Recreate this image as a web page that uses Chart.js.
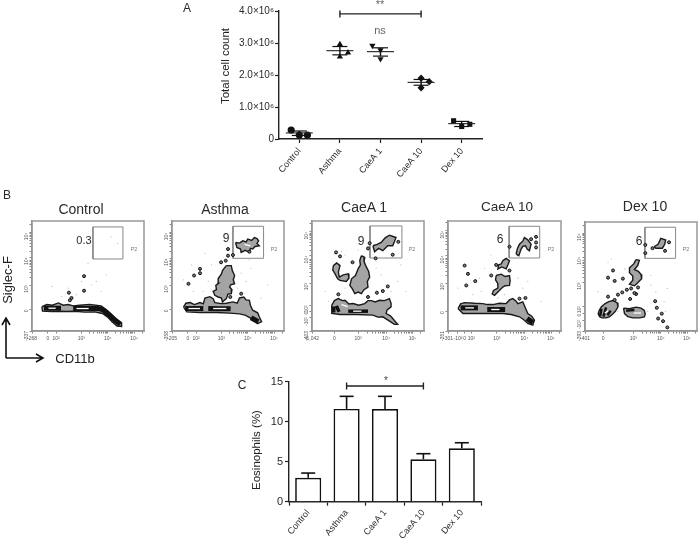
<!DOCTYPE html>
<html>
<head>
<meta charset="utf-8">
<script src="https://cdn.jsdelivr.net/npm/chart.js@4/dist/chart.umd.min.js"></script>
<style>
html, body { margin: 0; padding: 0; background: #fff; }
#page { position: relative; width: 700px; height: 546px; overflow: hidden; filter: blur(0.35px); }
canvas { position: absolute; }
.t { position: absolute; transform: translate(-50%, -50%); white-space: nowrap; color: #2a2a2a; font-family: "Liberation Sans", Arial, sans-serif; }
svg { position: absolute; left: 0; top: 0; }
</style>
</head>
<body>
<div id="page">
<svg width="700" height="546">
  <path d="M6 358V319M2 325L6 318L10 325M6 358H42M36 354L43 358L36 362" fill="none" stroke="#111" stroke-width="1.6"/>
</svg>
</div>
<script>
let categories = ['Control', 'Asthma', 'CaeA 1', 'CaeA 10', 'Dex 10']

/* Panel A, total cell count in millions */
let controlCounts = [0.28, 0.125, 0.125]
let asthmaCounts = [2.96, 2.70, 2.57]
let caea1Counts = [2.92, 2.78, 2.50]
let caea10Counts = [1.90, 1.79, 1.60]
let dexCounts = [0.57, 0.39, 0.46]
let countMeans = [0.19, 2.76, 2.73, 1.77, 0.48]
let countUpper = [0.25, 2.89, 2.85, 1.86, 0.55]
let countLower = [0.11, 2.63, 2.59, 1.68, 0.39]
let countTicks = ['0', '1.0×10⁶', '2.0×10⁶', '3.0×10⁶', '4.0×10⁶']

/* Panel C, eosinophils percent */
let eosinophils = [3.0, 11.6, 11.58, 5.3, 6.67]
let eosinophilsUpper = [3.58, 13.17, 13.17, 6.0, 7.37]

/* Panel B, values are instrument channels */
let controlGate = [[185, 218], [276, 218], [276, 315], [185, 315]]
let controlBlobs = [
    [[30, 74], [45, 80], [62, 78], [80, 85], [95, 78], [110, 80], [125, 76], [145, 78], [175, 80], [210, 76], [228, 63], [240, 52], [255, 38], [272, 25], [272, 14], [258, 15], [243, 28], [232, 40], [214, 53], [190, 58], [160, 57], [130, 60], [105, 59], [85, 60], [60, 59], [32, 60]]
]
let controlCores = [
    [[36, 69], [88, 69]],
    [[125, 68], [200, 68], [218, 62], [240, 42], [268, 20]]
]
let controlHighlights = [
    [[50, 69], [72, 69]],
    [[135, 68], [172, 68]]
]
let controlSpots = [[120, 100], [115, 93], [112, 116], [158, 166], [158, 122]]
let controlDots = [[225, 170], [170, 205], [60, 135], [150, 150], [180, 140], [110, 130], [135, 110], [260, 265], [240, 285], [210, 120], [195, 150], [90, 105]]

let asthmaGate = [[185, 220], [278, 220], [278, 317], [185, 317]]
let asthmaBlobs = [
    [[193, 268], [205, 266], [215, 273], [225, 270], [230, 278], [242, 274], [250, 283], [258, 280], [263, 273], [258, 265], [265, 258], [252, 256], [245, 248], [238, 250], [235, 238], [222, 244], [210, 238], [208, 248], [197, 253]],
    [[165, 198], [180, 198], [183, 183], [190, 168], [186, 155], [190, 143], [178, 140], [175, 133], [182, 125], [180, 113], [170, 112], [165, 98], [153, 88], [150, 100], [140, 103], [130, 108], [125, 120], [135, 125], [133, 138], [142, 145], [140, 158], [150, 173], [153, 182], [157, 188]],
    [[35, 72], [42, 84], [55, 86], [68, 80], [85, 86], [95, 82], [100, 100], [115, 104], [125, 98], [130, 86], [150, 83], [165, 84], [185, 88], [198, 84], [205, 100], [218, 103], [225, 94], [235, 93], [238, 78], [245, 63], [260, 55], [265, 43], [272, 28], [260, 22], [250, 34], [240, 38], [222, 48], [205, 52], [175, 54], [135, 56], [85, 56], [45, 58]]
]
let asthmaCores = [[[40, 68], [95, 68]], [[110, 68], [178, 67]], [[240, 40], [262, 28]]]
let asthmaHighlights = [[[50, 68], [85, 68]], [[125, 68], [165, 68]], [[220, 262], [238, 258]]]
let asthmaSpots = [[50, 143], [67, 168], [85, 188], [85, 175], [170, 228], [149, 208], [163, 213], [185, 230], [210, 113], [170, 248], [177, 103], [235, 240]]
let asthmaDots = [[35, 155], [95, 120], [120, 200], [210, 175], [240, 190], [290, 140], [200, 130], [235, 215], [110, 150], [65, 120], [225, 150], [270, 100], [60, 200], [100, 235]]

let caea1Gate = [[176, 221], [273, 221], [273, 318], [176, 318]]
let caea1Blobs = [
    [[185, 258], [198, 262], [210, 268], [222, 282], [235, 290], [246, 286], [255, 283], [250, 270], [245, 258], [230, 258], [215, 243], [202, 250], [190, 240]],
    [[150, 228], [160, 223], [158, 210], [163, 198], [172, 180], [175, 163], [168, 150], [170, 133], [158, 125], [150, 113], [140, 118], [130, 113], [122, 128], [115, 138], [120, 158], [132, 168], [140, 188], [147, 200], [145, 213]],
    [[65, 198], [75, 206], [85, 198], [80, 178], [83, 163], [95, 170], [110, 173], [112, 160], [104, 150], [85, 153], [78, 158], [70, 173], [63, 185]],
    [[60, 78], [68, 92], [80, 98], [92, 92], [100, 93], [112, 82], [125, 83], [142, 78], [160, 83], [170, 92], [180, 92], [192, 88], [205, 93], [220, 92], [235, 98], [240, 84], [240, 73], [228, 64], [225, 53], [238, 46], [245, 38], [260, 20], [250, 20], [232, 32], [215, 43], [200, 42], [185, 48], [135, 50], [85, 50], [60, 53]]
]
let caea1Cores = [[[66, 74], [66, 56]], [[74, 76], [82, 58]], [[110, 60], [170, 60]]]
let caea1Highlights = [[[125, 60], [150, 60]], [[90, 80], [108, 74]]]
let caea1Spots = [[73, 238], [85, 226], [123, 208], [215, 121], [230, 135], [197, 116], [170, 103], [175, 266], [170, 250], [245, 231], [193, 220], [80, 111], [262, 270]]
let caea1Dots = [[40, 120], [100, 130], [260, 150], [210, 170], [195, 190], [50, 90], [140, 245], [240, 120], [285, 120], [270, 200], [90, 240], [100, 230]]

let caea10Gate = [[184, 221], [276, 221], [276, 317], [184, 317]]
let caea10Blobs = [
    [[205, 233], [209, 250], [215, 263], [225, 272], [230, 283], [240, 276], [250, 263], [245, 243], [238, 248], [233, 258], [225, 256], [220, 248], [213, 228]],
    [[165, 213], [175, 220], [185, 213], [180, 200], [175, 188], [162, 194], [150, 188], [152, 200], [160, 203]],
    [[145, 168], [160, 172], [172, 165], [185, 168], [187, 152], [185, 138], [172, 137], [165, 133], [156, 124], [150, 118], [140, 108], [133, 112], [137, 123], [150, 130], [150, 143], [143, 155]],
    [[30, 68], [38, 82], [50, 86], [80, 84], [105, 83], [118, 80], [135, 80], [155, 84], [175, 83], [185, 94], [195, 98], [205, 90], [210, 83], [225, 88], [232, 72], [240, 53], [252, 45], [260, 33], [255, 18], [240, 23], [228, 34], [215, 43], [190, 50], [165, 53], [105, 53], [45, 53]]
]
let caea10Cores = [[[38, 70], [90, 70]], [[118, 65], [172, 65]], [[238, 38], [255, 25]]]
let caea10Highlights = [[[52, 70], [78, 70]], [[130, 65], [155, 65]]]
let caea10Spots = [[50, 198], [60, 173], [55, 138], [82, 151], [185, 255], [265, 285], [265, 268], [265, 253], [250, 278], [145, 200], [130, 168], [185, 183], [233, 100], [215, 98]]
let caea10Dots = [[30, 130], [100, 120], [130, 230], [210, 160], [240, 150], [110, 190], [75, 110], [225, 130], [170, 110], [280, 90], [150, 100], [95, 160]]

let dexGate = [[182, 222], [275, 222], [275, 317], [182, 317]]
let dexBlobs = [
    [[210, 258], [222, 265], [230, 283], [245, 278], [242, 265], [235, 253], [215, 253]],
    [[155, 218], [165, 216], [160, 200], [150, 188], [162, 182], [170, 173], [172, 160], [165, 153], [158, 145], [150, 138], [135, 143], [145, 155], [145, 168], [135, 178], [135, 193], [148, 205]],
    [[43, 63], [50, 74], [60, 83], [72, 90], [85, 93], [98, 86], [100, 73], [92, 60], [85, 53], [75, 44], [65, 40], [52, 40], [45, 43], [40, 52]],
    [[117, 70], [135, 68], [155, 73], [170, 70], [180, 63], [183, 52], [180, 43], [165, 40], [145, 40], [130, 44], [120, 53]]
]
let dexCores = [[[46, 46], [50, 68]], [[56, 44], [64, 72]], [[68, 48], [78, 62]], [[125, 62], [150, 64]]]
let dexHighlights = [[[60, 55], [70, 62]], [[148, 55], [170, 55]]]
let dexSpots = [[70, 163], [90, 153], [85, 185], [115, 160], [70, 105], [100, 111], [113, 118], [127, 126], [140, 130], [155, 113], [161, 133], [90, 95], [137, 98], [213, 91], [218, 71], [233, 53], [222, 38], [237, 30], [250, 11], [183, 238], [183, 263], [205, 253], [255, 271], [243, 245], [150, 116]]
let dexDots = [[70, 210], [120, 190], [250, 130], [100, 60], [200, 140], [215, 120], [40, 120], [240, 90], [80, 220], [190, 60], [245, 60], [200, 170]]

/* Flow axis ticks, channel position then label */
let controlXTicks = [0, 48, 73, 150, 230, 310]
let controlXLabels = ['-268', '0', '10²', '10³', '10⁴', '10⁵']
let controlYTicks = [0, 65, 138, 223, 298]
let controlYLabels = ['-337', '0', '10³', '10⁴', '10⁵']
let asthmaXTicks = [0, 48, 73, 150, 230, 310]
let asthmaXLabels = ['-205', '0', '10²', '10³', '10⁴', '10⁵']
let asthmaYTicks = [0, 65, 138, 220, 298]
let asthmaYLabels = ['-358', '0', '10³', '10⁴', '10⁵']
let caea1XTicks = [0, 68, 140, 225, 305]
let caea1XLabels = ['-1,042', '0', '10³', '10⁴', '10⁵']
let caea1YTicks = [0, 42, 58, 78, 145, 228, 300]
let caea1YLabels = ['-403', '-10²', '0', '10²', '10³', '10⁴', '10⁵']
let caea10XTicks = [0, 30, 50, 70, 147, 230, 310]
let caea10XLabels = ['-301', '-10²', '0', '10²', '10³', '10⁴', '10⁵']
let caea10YTicks = [0, 60, 145, 228, 303]
let caea10YLabels = ['-351', '0', '10³', '10⁴', '10⁵']
let dexXTicks = [0, 55, 147, 230, 310]
let dexXLabels = ['-401', '0', '10³', '10⁴', '10⁵']
let dexYTicks = [0, 33, 53, 76, 148, 226, 298]
let dexYLabels = ['-393', '-10²', '0', '10²', '10³', '10⁴', '10⁵']

let page = document.querySelector('#page')
Chart.defaults.font.family = '"Liberation Sans", Arial, sans-serif'
Chart.defaults.color = '#2a2a2a'

function addCanvas(left, top, width, height) {
    let canvas = document.createElement('canvas')
    canvas.width = width
    canvas.height = height
    canvas.style.left = left + 'px'
    canvas.style.top = top + 'px'
    canvas.style.width = width + 'px'
    canvas.style.height = height + 'px'
    page.appendChild(canvas)
    return canvas.getContext('2d')
}

function addText(text, x, y, size, color, rotate) {
    let el = document.createElement('div')
    el.className = 't'
    el.textContent = text
    el.style.left = x + 'px'
    el.style.top = y + 'px'
    el.style.fontSize = size + 'px'
    if (color) el.style.color = color
    if (rotate) el.style.transform = 'translate(-50%, -50%) rotate(' + rotate + 'deg)'
    page.appendChild(el)
}

// keep the plot area fixed, whatever size the labels ask for
function fixSize(prop, size) {
    return function(scale) {
        scale[prop] = size
        scale.paddingLeft = 0
        scale.paddingRight = 0
        scale.paddingTop = 0
        scale.paddingBottom = 0
    }
}

function line(ctx, x1, y1, x2, y2, width, color) {
    ctx.save()
    ctx.strokeStyle = color
    ctx.lineWidth = width
    ctx.beginPath()
    ctx.moveTo(x1, y1)
    ctx.lineTo(x2, y2)
    ctx.stroke()
    ctx.restore()
}

// significance bracket between two categories
function drawBracket(chart, from, to, value) {
    let ctx = chart.ctx
    let xs = chart.scales.x
    let y = chart.scales.y.getPixelForValue(value)
    let x1 = xs.getPixelForValue(from)
    let x2 = xs.getPixelForValue(to)
    line(ctx, x1, y, x2, y, 1.4, '#222')
    line(ctx, x1, y - 3.5, x1, y + 3.5, 1.4, '#222')
    line(ctx, x2, y - 3.5, x2, y + 3.5, 1.4, '#222')
}

/* Panel A */
let scatterOffsets = [
    [-0.2, 0, 0.2],
    [0, 0.2, 0],
    [-0.2, 0, 0],
    [0, 0.2, 0],
    [-0.2, 0, 0.2]
]

function countSeries(values, index, style, rotation) {
    return {
        data: values.map(function(v, i) { return { x: index + scatterOffsets[index][i], y: v } }),
        pointStyle: style,
        pointRotation: rotation || 0,
        pointRadius: 3.6,
        backgroundColor: '#111',
        borderColor: '#111',
        borderWidth: 0
    }
}

let meanLines = {
    id: 'meanLines',
    afterDatasetsDraw: function(chart) {
        let ctx = chart.ctx
        let xs = chart.scales.x
        let ys = chart.scales.y
        countMeans.forEach(function(mean, i) {
            let x = xs.getPixelForValue(i)
            let m = ys.getPixelForValue(mean)
            let hi = ys.getPixelForValue(countUpper[i])
            let lo = ys.getPixelForValue(countLower[i])
            line(ctx, x - 13.5, m, x + 13.5, m, 1.1, '#222')
            line(ctx, x, hi, x, lo, 1.4, '#111')
            line(ctx, x - 7.5, hi, x + 7.5, hi, 1.2, '#111')
            line(ctx, x - 7.5, lo, x + 7.5, lo, 1.2, '#111')
        })
        drawBracket(chart, 1, 3, 3.91)
    }
}

new Chart(addCanvas(215, 0, 275, 185), {
    type: 'scatter',
    data: {
        datasets: [
            countSeries(controlCounts, 0, 'circle'),
            countSeries(asthmaCounts, 1, 'triangle'),
            countSeries(caea1Counts, 2, 'triangle', 180),
            countSeries(caea10Counts, 3, 'rectRot'),
            countSeries(dexCounts, 4, 'rect')
        ]
    },
    options: {
        responsive: false,
        animation: false,
        events: [],
        layout: { padding: { top: 11, right: 8, left: 0, bottom: 0 } },
        plugins: { legend: { display: false }, tooltip: { enabled: false } },
        scales: {
            x: {
                type: 'linear',
                min: -0.5,
                max: 4.5,
                afterBuildTicks: function(scale) { scale.ticks = categories.map(function(c, i) { return { value: i } }) },
                afterFit: fixSize('height', 46),
                grid: { drawOnChartArea: false, tickLength: 4, tickColor: '#222', tickWidth: 1.2 },
                border: { color: '#222', width: 1.4 },
                ticks: {
                    autoSkip: false,
                    maxRotation: 50,
                    minRotation: 50,
                    padding: 3,
                    font: { size: 9 },
                    callback: function(v) { return categories[v] }
                }
            },
            y: {
                min: 0,
                max: 4,
                afterBuildTicks: function(scale) { scale.ticks = countTicks.map(function(c, i) { return { value: i } }) },
                afterFit: fixSize('width', 64),
                grid: { drawOnChartArea: false, tickLength: 4, tickColor: '#222', tickWidth: 1.2 },
                border: { color: '#222', width: 1.4 },
                ticks: {
                    padding: 1,
                    font: { size: 10 },
                    callback: function(v) { return countTicks[v] }
                }
            }
        }
    },
    plugins: [meanLines]
})

/* Panel C */
let eosinophilBars = {
    id: 'eosinophilBars',
    afterDatasetsDraw: function(chart) {
        let ctx = chart.ctx
        let ys = chart.scales.y
        eosinophilsUpper.forEach(function(upper, i) {
            let x = chart.scales.x.getPixelForValue(i)
            let top = ys.getPixelForValue(upper)
            line(ctx, x, ys.getPixelForValue(eosinophils[i]), x, top, 1.6, '#111')
            line(ctx, x - 7, top, x + 7, top, 1.6, '#111')
        })
        drawBracket(chart, 1, 3, 14.46)
    }
}

new Chart(addCanvas(240, 372, 250, 174), {
    type: 'bar',
    data: {
        labels: categories,
        datasets: [{
            data: eosinophils,
            backgroundColor: '#fff',
            borderColor: '#111',
            borderWidth: 1.7,
            barPercentage: 0.68,
            categoryPercentage: 1
        }]
    },
    options: {
        responsive: false,
        animation: false,
        events: [],
        layout: { padding: { top: 9.7, right: 9, left: 0, bottom: 0 } },
        plugins: { legend: { display: false }, tooltip: { enabled: false } },
        scales: {
            x: {
                afterFit: fixSize('height', 44.3),
                grid: { drawOnChartArea: false, tickLength: 4, tickColor: '#222', tickWidth: 1.2 },
                border: { color: '#222', width: 1.4 },
                ticks: { autoSkip: false, maxRotation: 50, minRotation: 50, padding: 2, font: { size: 9 } }
            },
            y: {
                min: 0,
                max: 15,
                afterFit: fixSize('width', 49),
                grid: { drawOnChartArea: false, tickLength: 4, tickColor: '#222', tickWidth: 1.2 },
                border: { color: '#222', width: 1.4 },
                ticks: { stepSize: 5, padding: 2, font: { size: 11 } }
            }
        }
    },
    plugins: [eosinophilBars]
})

/* Panel B */
let flowFrame = {
    id: 'flowFrame',
    beforeDatasetsDraw: function(chart) {
        let a = chart.chartArea
        chart.ctx.save()
        chart.ctx.strokeStyle = '#999'
        chart.ctx.lineWidth = 1.5
        chart.ctx.strokeRect(a.left, a.top, a.right - a.left, a.bottom - a.top)
        chart.ctx.restore()
    }
}

function toPoints(pairs) {
    return pairs.map(function(p) { return { x: p[0], y: p[1] } })
}

function closed(pairs) {
    return toPoints(pairs.concat([pairs[0]]))
}

function minorTicks(majors) {
    let out = []
    majors.forEach(function(m) {
        for (let k = 2; k < 10; k++) out.push(m + 80 * Math.log10(k))
    })
    return out
}

function flowAxis(min, max, values, labels, isX) {
    return {
        type: 'linear',
        min: min,
        max: max,
        afterBuildTicks: function(scale) {
            let last = values[values.length - 1]
            let minors = minorTicks([last - 160, last - 80, last]).filter(function(v) { return v < max })
            scale.ticks = values.concat(minors).sort(function(a, b) { return a - b }).map(function(v) { return { value: v } })
        },
        afterFit: isX ? fixSize('height', 14) : fixSize('width', 20),
        grid: { drawOnChartArea: false, tickLength: 2.5, tickColor: '#666', tickWidth: 0.8 },
        border: { color: '#888', width: 1.4 },
        ticks: {
            autoSkip: false,
            minRotation: isX ? 0 : 90,
            maxRotation: isX ? 0 : 90,
            padding: isX ? 2 : 3,
            color: '#555',
            font: { size: 5 },
            callback: function(v) {
                let i = values.indexOf(v)
                return i < 0 ? '' : labels[i]
            }
        }
    }
}

function flowChart(left, top, right, bottom, parts) {
    let datasets = []
    datasets.push({
        data: toPoints(parts.spots),
        pointRadius: 1.5,
        pointBorderWidth: 1,
        pointBackgroundColor: '#777',
        pointBorderColor: '#111'
    })
    parts.highlights.forEach(function(h) {
        datasets.push({ data: toPoints(h), showLine: true, pointRadius: 0, borderColor: '#fff', borderWidth: 1.3 })
    })
    parts.cores.forEach(function(c) {
        datasets.push({ data: toPoints(c), showLine: true, pointRadius: 0, borderColor: '#111', borderWidth: parts.coreWidth || 5, tension: 0.2 })
    })
    parts.blobs.forEach(function(b) {
        datasets.push({ data: closed(b), showLine: true, pointRadius: 0, borderColor: '#1a1a1a', borderWidth: 1.4, backgroundColor: '#a4a4a4', fill: 'shape' })
    })
    datasets.push({ data: toPoints(parts.dots), pointRadius: 0.6, pointBackgroundColor: '#bbb', pointBorderWidth: 0 })
    datasets.push({ data: closed(parts.gate), showLine: true, pointRadius: 0, borderColor: '#888', borderWidth: 1 })

    new Chart(addCanvas(left - 20, top - 4, right - left + 24, bottom - top + 18), {
        type: 'scatter',
        data: { datasets: datasets },
        options: {
            responsive: false,
            animation: false,
            events: [],
            layout: { padding: { top: 4, right: 4, left: 0, bottom: 0 } },
            plugins: { legend: { display: false }, tooltip: { enabled: false } },
            scales: {
                x: flowAxis(0, 340, parts.xTicks, parts.xLabels, true),
                y: flowAxis(0, 333, parts.yTicks, parts.yLabels, false)
            }
        },
        plugins: [flowFrame]
    })
}

flowChart(32, 220, 145, 331, { gate: controlGate, blobs: controlBlobs, cores: controlCores, highlights: controlHighlights, spots: controlSpots, dots: controlDots, xTicks: controlXTicks, xLabels: controlXLabels, yTicks: controlYTicks, yLabels: controlYLabels })
flowChart(172, 220, 285, 331, { gate: asthmaGate, blobs: asthmaBlobs, cores: asthmaCores, highlights: asthmaHighlights, spots: asthmaSpots, dots: asthmaDots, xTicks: asthmaXTicks, xLabels: asthmaXLabels, yTicks: asthmaYTicks, yLabels: asthmaYLabels })
flowChart(312, 220, 425, 331, { gate: caea1Gate, blobs: caea1Blobs, cores: caea1Cores, highlights: caea1Highlights, spots: caea1Spots, dots: caea1Dots, coreWidth: 3.5, xTicks: caea1XTicks, xLabels: caea1XLabels, yTicks: caea1YTicks, yLabels: caea1YLabels })
flowChart(448, 220, 562, 331, { gate: caea10Gate, blobs: caea10Blobs, cores: caea10Cores, highlights: caea10Highlights, spots: caea10Spots, dots: caea10Dots, xTicks: caea10XTicks, xLabels: caea10XLabels, yTicks: caea10YTicks, yLabels: caea10YLabels })
flowChart(585, 221, 698, 331, { gate: dexGate, blobs: dexBlobs, cores: dexCores, highlights: dexHighlights, spots: dexSpots, dots: dexDots, coreWidth: 2.5, xTicks: dexXTicks, xLabels: dexXLabels, yTicks: dexYTicks, yLabels: dexYLabels })

/* Text around the charts */
addText('A', 187, 8, 12)
addText('B', 7, 195, 12)
addText('C', 242, 385, 12)
addText('**', 380, 4, 11, '#666')
addText('ns', 380, 30, 11, '#666')
addText('*', 386, 380, 10, '#444')

addText('Total cell count', 225, 66, 11.5, '#222', -90)
addText('Eosinophils (%)', 256, 450, 11.5, '#222', -90)

addText('Control', 81, 209, 14)
addText('Asthma', 225, 209, 14)
addText('CaeA 1', 364, 207, 14)
addText('CaeA 10', 507, 206, 13.5)
addText('Dex 10', 645, 206, 14)

addText('0.3', 84, 240, 11)
addText('9', 226, 238, 12)
addText('9', 361, 241, 12)
addText('6', 500, 239, 12)
addText('6', 639, 241, 12)

addText('P2', 134, 249, 5.5, '#777')
addText('P2', 274, 249, 5.5, '#777')
addText('P2', 412, 249, 5.5, '#777')
addText('P2', 551, 249, 5.5, '#777')
addText('P2', 686, 249, 5.5, '#777')

addText('Siglec-F', 7, 280, 13, '#222', -90)
addText('CD11b', 75, 358, 13, '#222')
</script>
</body>
</html>
